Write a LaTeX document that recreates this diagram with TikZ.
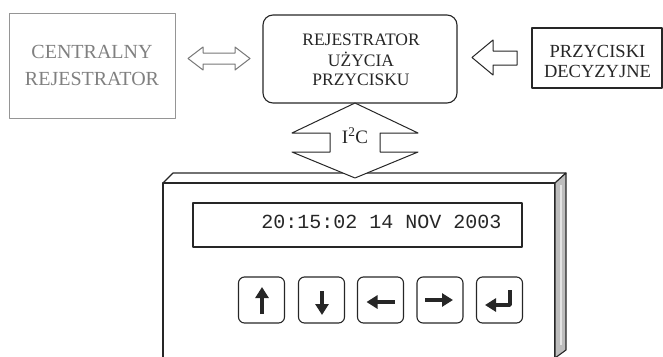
\documentclass[tikz,border=0pt]{standalone}
\usepackage{fontspec}
\setmainfont{Liberation Serif}
\setmonofont{Liberation Mono}
\usetikzlibrary{calc,arrows.meta}
\definecolor{ink}{HTML}{262626}
\definecolor{pale}{HTML}{959595}
\definecolor{paletext}{HTML}{808080}
\definecolor{sidefill}{HTML}{BDBDBD}
\begin{document}
\begin{tikzpicture}[x=1pt,y=-1pt,line join=round,
  pbox/.style={draw=pale,line width=0.9pt,inner sep=0pt},
  dbox/.style={draw=ink,line width=1.1pt,inner sep=0pt},
  rbox/.style={draw=ink,line width=1.1pt,inner sep=0pt,rounded corners=10pt},
  keybox/.style={draw=ink,line width=1.1pt,inner sep=0pt,rounded corners=6pt,minimum width=46pt,minimum height=46pt},
  hollow/.style={draw=ink,line width=1pt,fill=white},
  hollowpale/.style={draw=pale!80!black,line width=1pt,fill=white},
  keyarrow/.style={draw=ink,line width=3.6pt,-{Triangle[length=11pt,width=13pt]}},
  lbl/.style={anchor=base,inner sep=0pt,text=ink},
]
\useasboundingbox (0,0) rectangle (663,356);
\clip (0,0) rectangle (663,356);

% --- top row boxes
\node[pbox,minimum width=166pt,minimum height=105pt] (cr) at (92,65.5) {};
\node[lbl,text=paletext,font=\fontsize{20}{20}\selectfont] (cr1) at (92,58) {CENTRALNY};
\node[lbl,text=paletext,font=\fontsize{20}{20}\selectfont] (cr2) at (92,85) {REJESTRATOR};

\node[rbox,minimum width=194pt,minimum height=88pt] (rej) at (360,59) {};
\node[lbl,font=\fontsize{17.5}{17.5}\selectfont] (rej1) at (361,45) {REJESTRATOR};
\node[lbl,font=\fontsize{17.5}{17.5}\selectfont] (rej2) at (361,66) {UŻYCIA};
\node[lbl,font=\fontsize{17.5}{17.5}\selectfont] (rej3) at (361,85) {PRZYCISKU};

\node[dbox,minimum width=130pt,minimum height=60pt] (prz) at (597,58) {};
\node[lbl,font=\fontsize{18.5}{18.5}\selectfont] (prz1) at (597.5,57) {PRZYCISKI};
\node[lbl,font=\fontsize{18.5}{18.5}\selectfont] (prz2) at (597.5,77) {DECYZYJNE};

% --- hollow arrows
\draw[hollowpale] (188,58.5) -- (203,47) -- (203,53) -- (235,53) -- (235,47) -- (250,58.5)
   -- (235,70) -- (235,64) -- (203,64) -- (203,70) -- cycle;
\draw[hollow] (472,57.5) -- (493,40) -- (493,51) -- (517,51) -- (517,65) -- (493,65) -- (493,75) -- cycle;

% --- device
\draw[dbox] (163,360) -- (163,183) -- (555,183) -- (555,360);
\draw[dbox] (163,183) -- (173,173) -- (566,173) -- (555,183);
\filldraw[draw=ink,line width=1.1pt,fill=sidefill] (555,183) -- (566,173) -- (566,350) -- (555,358) -- cycle;
\draw[white,line width=1.5pt,opacity=0.6] (561,185) -- (561,345);

\node[dbox,minimum width=329pt,minimum height=44pt] (disp) at (357.5,225) {};
\node[lbl,font=\ttfamily\fontsize{20}{20}\selectfont] (time) at (381.5,228) {20:15:02 14 NOV 2003};

% --- I2C arrow
\draw[hollow] (355,103) -- (292,133) -- (330,133) -- (330,152) -- (292,152) -- (355,178)
   -- (418,152) -- (380,152) -- (380,133) -- (418,133) -- cycle;
\node[lbl,font=\fontsize{19}{19}\selectfont] (i2c) at (355,143) {I\textsuperscript{2}C};

% --- keys
\node[keybox] (k1) at (261.5,300) {};
\node[keybox] (k2) at (321.5,300) {};
\node[keybox] (k3) at (380.5,300) {};
\node[keybox] (k4) at (440,300) {};
\node[keybox] (k5) at (499.5,300) {};

\draw[keyarrow] ($(k1)+(0.5,14)$) -- ($(k1)+(0.5,-13)$);
\draw[keyarrow] ($(k2)+(0.5,-9)$) -- ($(k2)+(0.5,15)$);
\draw[keyarrow] ($(k3)+(14,2)$) -- ($(k3)+(-14,2)$);
\draw[keyarrow] ($(k4)+(-15,0)$) -- ($(k4)+(13,0)$);
\draw[keyarrow] ($(k5)+(10.5,-10)$) -- ($(k5)+(10.5,5)$) -- ($(k5)+(-14.5,5)$);
\end{tikzpicture}
\end{document}
